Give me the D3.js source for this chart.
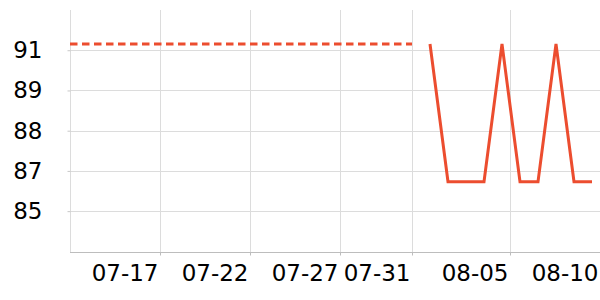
<!DOCTYPE html>
<html>
<head>
<meta charset="utf-8">
<script src="https://cdn.jsdelivr.net/npm/d3@7"></script>
<style>
  html, body { margin: 0; padding: 0; background: #fff; }
  svg { display: block; font-family: "DejaVu Sans", sans-serif; }
</style>
</head>
<body>
<div id="chart"></div>
<script>
// dashed series: flat reference up to 07-31
const refDates = ['2024-07-12', '2024-07-31'];
const refValues = [90.8, 90.8];

// solid series: daily values 08-01 .. 08-10
const dailyDates = ['2024-08-01', '2024-08-02', '2024-08-03', '2024-08-04', '2024-08-05',
                    '2024-08-06', '2024-08-07', '2024-08-08', '2024-08-09', '2024-08-10'];
const dailyValues = [90.8, 86.35, 86.35, 86.35, 90.8, 86.35, 86.35, 90.8, 86.35, 86.35];

const xTickDates = ['2024-07-17', '2024-07-22', '2024-07-27', '2024-07-31',
                    '2024-08-05T10:40', '2024-08-10T10:40'];
const xTickLabels = ['07-17', '07-22', '07-27', '07-31', '08-05', '08-10'];
const yTickValues = [85.4, 86.7, 88.0, 89.3, 90.6];

const W = 600, H = 300;
const M = { top: 10, right: 0, bottom: 48, left: 70 };
const color = '#ec4d2f';

const parse = s => new Date(s.length > 10 ? s : s + 'T00:00');

const svg = d3.select('#chart').append('svg')
  .attr('width', W).attr('height', H);

const x = d3.scaleTime()
  .domain([parse('2024-07-12'), parse('2024-08-10T10:40')])
  .range([M.left, W - M.right]);
const y = d3.scaleLinear()
  .domain([84.08, 91.9])
  .range([H - M.bottom, M.top]);

// grid
svg.append('g')
  .selectAll('line')
  .data(yTickValues)
  .join('line')
  .attr('x1', M.left).attr('x2', W - M.right)
  .attr('y1', d => Math.round(y(d)) + 0.5).attr('y2', d => Math.round(y(d)) + 0.5)
  .attr('stroke', '#dcdcdc').attr('stroke-width', 1);

svg.append('g')
  .selectAll('line')
  .data(xTickDates.map(parse))
  .join('line')
  .attr('x1', d => Math.round(x(d)) + 0.5).attr('x2', d => Math.round(x(d)) + 0.5)
  .attr('y1', M.top).attr('y2', H - M.bottom)
  .attr('stroke', '#dcdcdc').attr('stroke-width', 1);

// y axis
svg.append('g')
  .attr('transform', `translate(${M.left + 0.5},0)`)
  .call(d3.axisLeft(y).tickValues(yTickValues).tickFormat(d3.format('.0f')).tickSize(3).tickPadding(25))
  .call(g => g.select('.domain').attr('stroke', '#dcdcdc').attr('d', `M0,${M.top}V${H - M.bottom}`))
  .call(g => g.selectAll('.tick line').attr('stroke', '#c8c8c8'))
  .call(g => g.selectAll('text').attr('font-size', '23px').attr('fill', '#000')
    .attr('font-family', '"DejaVu Sans", sans-serif'));

// x axis
svg.append('g')
  .attr('transform', `translate(0,${H - M.bottom + 0.5})`)
  .call(d3.axisBottom(x).tickValues(xTickDates.map(parse))
    .tickFormat((d, i) => xTickLabels[i]).tickSize(3).tickPadding(9))
  .call(g => g.select('.domain').attr('stroke', '#bdbdbd').attr('d', `M${M.left},0H${W}`))
  .call(g => g.selectAll('.tick line').attr('stroke', '#bdbdbd'))
  .call(g => g.selectAll('text').attr('font-size', '23px').attr('fill', '#000')
    .attr('font-family', '"DejaVu Sans", sans-serif')
    .attr('text-anchor', 'end').attr('dx', '-2'));

const line = d3.line()
  .x(d => x(d[0]))
  .y(d => y(d[1]));

svg.append('path')
  .datum(refDates.map((d, i) => [parse(d), refValues[i]]))
  .attr('d', line)
  .attr('fill', 'none')
  .attr('stroke', color)
  .attr('stroke-width', 3)
  .attr('stroke-dasharray', '7.5,4.5');

svg.append('path')
  .datum(dailyDates.map((d, i) => [parse(d), dailyValues[i]]))
  .attr('d', line)
  .attr('fill', 'none')
  .attr('stroke', color)
  .attr('stroke-width', 3)
  .attr('stroke-linejoin', 'miter');
</script>
</body>
</html>
